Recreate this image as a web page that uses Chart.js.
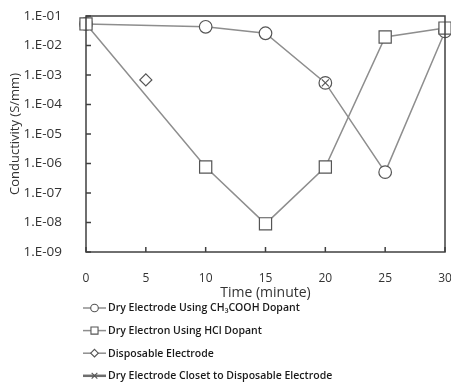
<!DOCTYPE html>
<html>
<head>
<meta charset="utf-8">
<script src="https://cdn.jsdelivr.net/npm/chart.js@4.4.0/dist/chart.umd.min.js"></script>
<style>
  html, body { margin: 0; padding: 0; background: #fff; overflow: hidden; }
  canvas { display: block; }
</style>
</head>
<body>
<canvas id="c" width="451" height="385"></canvas>
<script>
// values
const times = [0, 10, 15, 20, 25, 30];
const ch3coohVals = [5.4e-2, 4.3e-2, 2.6e-2, 5.4e-4, 5.1e-7, 3.0e-2];
const hclVals = [5.4e-2, 7.6e-7, 9.0e-9, 7.6e-7, 1.95e-2, 3.9e-2];
const disposableTimes = [5];
const disposableVals = [6.8e-4];
const closestTimes = [20];
const closestVals = [5.4e-4];

const xTicks = [0, 5, 10, 15, 20, 25, 30];
const yTicks = [1e-9, 1e-8, 1e-7, 1e-6, 1e-5, 1e-4, 1e-3, 1e-2, 1e-1];

const legendLabels = [
  'Dry Electrode Using CH\u2083COOH Dopant',
  'Dry Electron Using HCl Dopant',
  'Disposable Electrode',
  'Dry Electrode Closet to Disposable Electrode'
];

const LINE = '#8e8e8e';
const MARK = '#555';
const AXIS = '#404040';

function pts(xs, ys) {
  return xs.map((x, i) => ({ x, y: ys[i] }));
}

function sciLabel(v) {
  const e = Math.round(Math.log10(v));
  const s = Math.abs(e) < 10 ? '0' + Math.abs(e) : '' + Math.abs(e);
  return '1.E' + (e < 0 ? '-' : '+') + s;
}

// box frame + inward ticks
const framePlugin = {
  id: 'frame',
  afterDatasetsDraw(chart) {
    const { ctx, chartArea: a, scales } = chart;
    ctx.save();
    ctx.strokeStyle = AXIS;
    ctx.lineWidth = 1.5;
    ctx.strokeRect(a.left, a.top, a.right - a.left, a.bottom - a.top);
    ctx.beginPath();
    yTicks.forEach(v => {
      const y = scales.y.getPixelForValue(v);
      ctx.moveTo(a.left, y);
      ctx.lineTo(a.left + 5, y);
    });
    xTicks.forEach(v => {
      const x = scales.x.getPixelForValue(v);
      ctx.moveTo(x, a.bottom);
      ctx.lineTo(x, a.bottom - 5);
    });
    ctx.stroke();
    ctx.restore();
  }
};

// one-item-per-row legend under the x title
const legendPlugin = {
  id: 'rowLegend',
  afterDraw(chart) {
    const { ctx } = chart;
    const x0 = 83, y0 = 308, gap = 22.6;
    ctx.save();
    ctx.font = '600 10.5px "Open Sans"';
    ctx.textBaseline = 'middle';
    chart.data.datasets.forEach((ds, i) => {
      const y = y0 + i * gap;
      ctx.strokeStyle = ds.legendLine || LINE;
      ctx.lineWidth = ds.legendLineWidth || 1.5;
      ctx.beginPath();
      ctx.moveTo(x0, y);
      ctx.lineTo(x0 + 23, y);
      ctx.stroke();
      ctx.fillStyle = '#fff';
      ctx.strokeStyle = MARK;
      ctx.lineWidth = 1.1;
      Chart.helpers.drawPoint(ctx, {
        pointStyle: ds.pointStyle,
        radius: ds.legendRadius,
        rotation: 0,
        borderWidth: 1.1
      }, x0 + 11.5, y);
      ctx.fillStyle = '#1a1a1a';
      ctx.fillText(legendLabels[i], x0 + 25, y + 0.5);
    });
    ctx.restore();
  }
};

new Chart(document.getElementById('c'), {
  type: 'line',
  data: {
    datasets: [
      {
        label: legendLabels[0],
        data: pts(times, ch3coohVals),
        borderColor: LINE, borderWidth: 1.5,
        pointStyle: 'circle', pointRadius: 6.3,
        pointBackgroundColor: '#fff', pointBorderColor: MARK, pointBorderWidth: 1.2,
        legendRadius: 3.8,
        clip: false,
        order: 3
      },
      {
        label: legendLabels[1],
        data: pts(times, hclVals),
        borderColor: LINE, borderWidth: 1.5,
        pointStyle: 'rect', pointRadius: 8.6,
        pointBackgroundColor: '#fff', pointBorderColor: MARK, pointBorderWidth: 1.2,
        legendRadius: 5,
        clip: false,
        order: 2
      },
      {
        label: legendLabels[2],
        data: pts(disposableTimes, disposableVals),
        showLine: false,
        borderColor: LINE,
        pointStyle: 'rectRot', pointRadius: 6,
        pointBackgroundColor: '#fff', pointBorderColor: MARK, pointBorderWidth: 1.2,
        legendRadius: 3.8,
        clip: false,
        order: 1
      },
      {
        label: legendLabels[3],
        data: pts(closestTimes, closestVals),
        borderColor: '#707070', borderWidth: 2.5,
        pointStyle: 'crossRot', pointRadius: 5,
        pointBackgroundColor: '#fff', pointBorderColor: MARK, pointBorderWidth: 1.2,
        legendRadius: 4, legendLine: '#6e6e6e', legendLineWidth: 2.5,
        clip: false,
        order: 0
      }
    ]
  },
  options: {
    responsive: false,
    animation: false,
    devicePixelRatio: 1,
    layout: { autoPadding: false, padding: { left: 0, top: 16, right: 6, bottom: 83 } },
    plugins: {
      legend: { display: false },
      tooltip: { enabled: false }
    },
    scales: {
      x: {
        type: 'linear',
        min: 0, max: 30,
        afterBuildTicks: s => { s.ticks = xTicks.map(v => ({ value: v })); },
        afterFit: s => {
          s.height = 50;
          s.paddingLeft = 0;
          s.paddingRight = 0;
        },
        grid: { display: false },
        border: { display: false },
        ticks: {
          padding: 11,
          color: '#333',
          font: { family: '"Open Sans"', size: 12 },
          maxRotation: 0
        },
        title: {
          display: true,
          text: 'Time (minute)',
          color: '#333',
          font: { family: '"Open Sans"', size: 14 },
          padding: { top: 0, bottom: 1 }
        }
      },
      y: {
        type: 'logarithmic',
        min: 1e-9, max: 1e-1,
        afterBuildTicks: s => { s.ticks = yTicks.map(v => ({ value: v })); },
        afterFit: s => {
          s.width = 86;
          s.paddingTop = 0;
          s.paddingBottom = 0;
        },
        grid: { display: false },
        border: { display: false },
        ticks: {
          padding: 16,
          color: '#333',
          font: { family: '"Open Sans"', size: 13.5 },
          callback: v => sciLabel(v)
        },
        title: {
          display: true,
          text: 'Conductivity (S/mm)',
          color: '#333',
          font: { family: '"Open Sans"', size: 13 },
          padding: { top: 7, bottom: 0 }
        }
      }
    }
  },
  plugins: [framePlugin, legendPlugin]
});
</script>
</body>
</html>
